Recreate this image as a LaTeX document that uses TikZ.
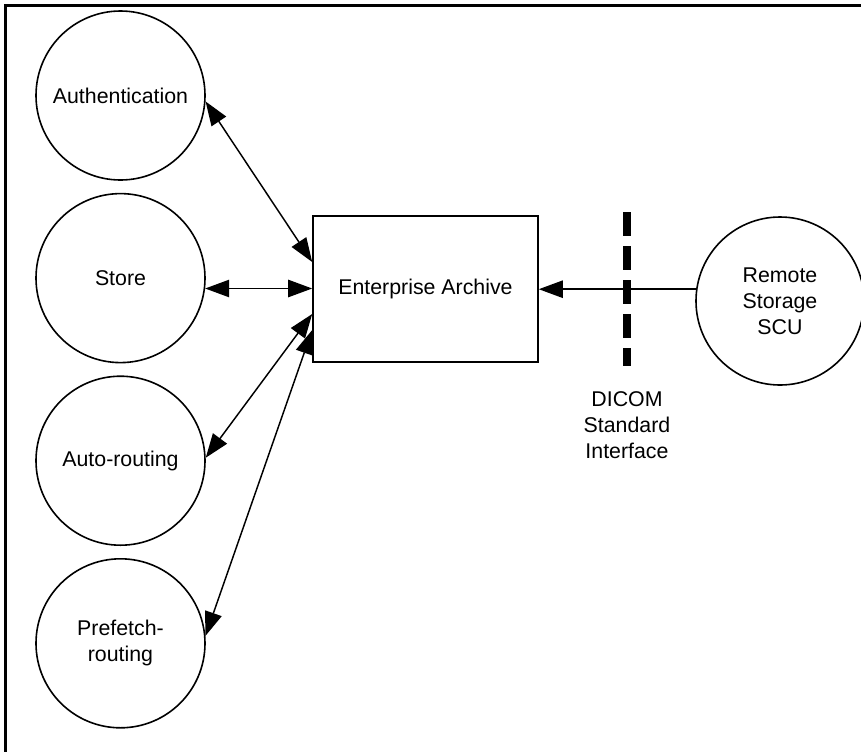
\documentclass[tikz,border=0pt]{standalone}
\usepackage{fontspec}
\setmainfont{Liberation Sans}
\usetikzlibrary{calc,positioning,arrows.meta}

\tikzset{
	proc/.style={draw, circle, line width=1.2pt, inner sep=0pt, minimum size=126.75pt, align=center, font=\fontsize{16}{19.5}\selectfont},
	store box/.style={draw, rectangle, line width=1.2pt, inner sep=0pt, minimum width=168.75pt, minimum height=109.5pt, font=\fontsize{16}{19.5}\selectfont},
	link/.style={line width=1.1pt, {Triangle[length=18pt, width=13pt]}-{Triangle[length=18pt, width=13pt]}},
	inlink/.style={line width=1.1pt, -{Triangle[length=18pt, width=13pt]}},
	barrier/.style={line width=5.6pt, dash pattern=on 18pt off 7.5pt},
	note/.style={align=center, inner sep=0pt, font=\fontsize{16}{19.5}\selectfont}
}

\begin{document}
\begin{tikzpicture}[x=0.75pt, y=-0.75pt]
			%%%%% START %%%%%
			\useasboundingbox (0,0) rectangle (861,751);
			
			% frame, cut at right and bottom
			\draw[line width=2pt] (5.8,760) -- (5.8,5.8) -- (870,5.8);
			
			% processes on the left
			\node[proc] (auth) at (120.5,95.5) {Authentication};
			\node[proc, below=9pt of auth] (store) {Store};
			\node[proc, below=9pt of store] (auto) {Auto-routing};
			\node[proc, below=9pt of auto] (pre) {Prefetch-\\routing};
			
			% archive and remote side
			\node[store box] (arch) at (425.5,289) {Enterprise Archive};
			\node[proc, minimum size=126pt] (remote) at (780,301) {Remote\\Storage\\SCU};
			
			\coordinate (dtop) at (627,212);
			\coordinate (dbot) at (627,366);
			\draw[barrier] (dtop) -- (dbot);
			\node[note] (dicom) at (627,425) {DICOM\\Standard\\Interface};
			
			% connectors
			\draw[link] (auth.-4) -- ($(arch.west)+(0,-27)$);
			\draw[link] (store.-7) -- (store.-7 -| arch.west);
			\draw[link] (auto.2) -- ($(arch.west)+(0,25)$);
			\draw[link] (pre.5) -- ($(arch.west)+(0,41)$);
			\draw[inlink] (remote.172) -- (remote.172 -| arch.east);
			
			%%%%% END %%%%%
\end{tikzpicture}
\end{document}
